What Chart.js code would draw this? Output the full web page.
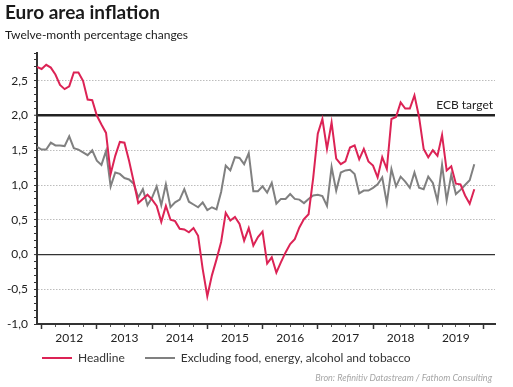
<!DOCTYPE html>
<html>
<head>
<meta charset="utf-8">
<script src="https://cdn.jsdelivr.net/npm/chart.js@4.4.0/dist/chart.umd.min.js"></script>
<style>
  body { margin: 0; background: #fff; font-family: Lato, sans-serif; }
  #wrap { position: relative; width: 513px; height: 387px; overflow: hidden; }
  #chart { position: absolute; left: 0; top: 0; }
  .title { position: absolute; left: 5px; top: 1px; font-size: 19px; line-height: 22px; font-weight: bold; color: #1a1a1a; }
  .subtitle { position: absolute; left: 5px; top: 28px; font-size: 12px; line-height: 14px; color: #1a1a1a; }
  #legend { position: absolute; left: 42px; top: 350px; font-size: 12px; line-height: 16px; color: #333; display: flex; }
  .item { display: flex; align-items: center; margin-right: 20px; }
  .swatch { width: 30px; height: 2px; margin-right: 6px; }
  .source { position: absolute; right: 21px; top: 372px; font-size: 9px; line-height: 12px; font-style: italic; color: #a6a6a6; }
</style>
</head>
<body>
<div id="wrap">
  <canvas id="chart" width="513" height="387"></canvas>
  <div class="title">Euro area inflation</div>
  <div class="subtitle">Twelve-month percentage changes</div>
  <div id="legend"></div>
  <div class="source">Bron: Refinitiv Datastream / Fathom Consulting</div>
</div>
<script>
// monthly observations, first one is Dec 2011, last one Nov 2019
const years = [2012, 2013, 2014, 2015, 2016, 2017, 2018, 2019]

const headline = [
  2.70, 2.67, 2.73, 2.69, 2.59, 2.44, 2.38, 2.42, 2.62, 2.62, 2.50, 2.23,
  2.22, 2.00, 1.87, 1.75, 1.16, 1.42, 1.62, 1.61, 1.35, 1.05, 0.74, 0.80,
  0.86, 0.79, 0.70, 0.47, 0.70, 0.50, 0.48, 0.37, 0.36, 0.32, 0.38, 0.27,
  -0.21, -0.60, -0.30, -0.07, 0.18, 0.60, 0.49, 0.54, 0.44, 0.20, 0.38, 0.13,
  0.25, 0.33, -0.13, -0.04, -0.26, -0.11, 0.03, 0.15, 0.22, 0.39, 0.51, 0.58,
  1.10, 1.74, 1.95, 1.52, 1.90, 1.38, 1.30, 1.34, 1.54, 1.57, 1.37, 1.52,
  1.34, 1.28, 1.11, 1.40, 1.23, 1.95, 1.98, 2.19, 2.10, 2.10, 2.29, 1.98,
  1.52, 1.40, 1.50, 1.42, 1.72, 1.21, 1.27, 1.02, 1.01, 0.85, 0.73, 0.94
]

const core = [
  1.55, 1.51, 1.51, 1.61, 1.57, 1.57, 1.56, 1.70, 1.53, 1.51, 1.47, 1.43,
  1.50, 1.35, 1.29, 1.49, 0.98, 1.18, 1.16, 1.10, 1.08, 1.02, 0.82, 0.94,
  0.71, 0.82, 0.98, 0.71, 1.01, 0.68, 0.75, 0.79, 0.94, 0.76, 0.72, 0.68,
  0.75, 0.64, 0.68, 0.65, 0.90, 1.28, 1.21, 1.40, 1.39, 1.30, 1.46, 0.91,
  0.91, 0.98, 0.89, 1.03, 0.73, 0.80, 0.80, 0.87, 0.80, 0.79, 0.74, 0.80,
  0.85, 0.86, 0.84, 0.70, 1.26, 0.92, 1.18, 1.21, 1.22, 1.16, 0.88, 0.92,
  0.92, 0.96, 1.01, 1.11, 0.74, 1.23, 0.98, 1.12, 1.05, 0.96, 1.18, 0.96,
  0.94, 1.12, 1.03, 0.77, 1.29, 0.78, 1.15, 0.87, 0.93, 1.00, 1.07, 1.30
]

const ecbTarget = 2.0
const yMin = -1.0
const yMax = 2.9

// x is months since Dec 2011; axis runs to mid March 2020
const xMax = 99.5
const monthOf = (year, month) => (year - 2011) * 12 + month - 12

const majorTicks = years.map(y => monthOf(y, 1)).concat([monthOf(2020, 1)])
const midTicks = years.map(y => monthOf(y, 7))
const quarterTicks = []
years.concat([2020]).forEach(y => {
  quarterTicks.push(monthOf(y, 4), monthOf(y, 10))
})
const allTicks = majorTicks.concat(midTicks, quarterTicks).filter(v => v <= xMax).sort((a, b) => a - b)

const RED = '#dc2355'
const GREY = '#808080'

const isHalf = v => Math.abs(v * 2 - Math.round(v * 2)) < 1e-6
const near = (a, b) => Math.abs(a - b) < 1e-6
const fmt = v => {
  const r = Math.round(v * 10) / 10
  return (r === 0 ? 0 : r).toFixed(1).replace('.', ',')
}

const ecbLabel = {
  id: 'ecbLabel',
  afterDraw(chart) {
    const ctx = chart.ctx
    const y = chart.scales.y.getPixelForValue(ecbTarget)
    ctx.save()
    ctx.font = '12px Lato'
    ctx.fillStyle = '#222'
    ctx.textAlign = 'right'
    ctx.textBaseline = 'alphabetic'
    ctx.fillText('ECB target', chart.chartArea.right - 2, y - 7)
    ctx.restore()
  }
}

const chart = new Chart(document.getElementById('chart'), {
  type: 'line',
  data: {
    datasets: [
      {
        label: 'Headline',
        data: headline.map((v, i) => ({ x: i, y: v })),
        borderColor: RED,
        backgroundColor: RED,
        borderWidth: 2,
        pointRadius: 0,
        tension: 0
      },
      {
        label: 'Excluding food, energy, alcohol and tobacco',
        data: core.map((v, i) => ({ x: i, y: v })),
        borderColor: GREY,
        backgroundColor: GREY,
        borderWidth: 2,
        pointRadius: 0,
        tension: 0
      }
    ]
  },
  options: {
    responsive: false,
    animation: false,
    devicePixelRatio: 1,
    layout: { padding: { top: 53, right: 18, left: 0, bottom: 0 } },
    plugins: { legend: { display: false }, tooltip: { enabled: false } },
    scales: {
      x: {
        type: 'linear',
        min: 0,
        max: xMax,
        afterBuildTicks: s => { s.ticks = allTicks.map(v => ({ value: v })) },
        afterFit: s => { s.height = 63 },
        ticks: {
          autoSkip: false,
          maxRotation: 0,
          padding: 2,
          color: '#222',
          font: { family: 'Lato', size: 12 },
          callback: v => {
            const k = midTicks.indexOf(v)
            return k >= 0 ? String(years[k]) : ''
          }
        },
        grid: {
          drawOnChartArea: false,
          tickLength: 5,
          tickColor: c => majorTicks.includes(c.tick.value) ? '#333' : '#555',
          tickWidth: c => majorTicks.includes(c.tick.value) ? 1.5 : 1,
          tickBorderDash: c => majorTicks.includes(c.tick.value) ? [] : [2, 20]
        },
        border: { color: '#333', width: 2 }
      },
      y: {
        min: yMin,
        max: yMax,
        afterFit: s => { s.width = 37 },
        ticks: {
          stepSize: 0.1,
          autoSkip: false,
          padding: 6,
          color: '#222',
          font: { family: 'Lato', size: 12 },
          callback: v => isHalf(v) ? fmt(v) : ''
        },
        grid: {
          tickLength: 3,
          tickColor: '#333',
          tickWidth: 1,
          color: c => {
            const v = c.tick ? c.tick.value : 0
            if (near(v, yMin)) return 'rgba(0,0,0,0)'
            if (near(v, ecbTarget)) return '#222'
            if (near(v, 0)) return '#333'
            if (isHalf(v)) return '#bdbdbd'
            return 'rgba(0,0,0,0)'
          },
          lineWidth: c => {
            const v = c.tick ? c.tick.value : 0
            if (near(v, ecbTarget)) return 2.5
            if (near(v, 0)) return 1.2
            return 1
          }
        },
        border: {
          color: '#333',
          width: 2,
          dash: c => {
            const v = c.tick ? c.tick.value : 0
            if (!c.tick || near(v, ecbTarget) || near(v, 0)) return []
            return [1.5, 1.5]
          }
        }
      }
    }
  },
  plugins: [ecbLabel]
})

// legend built from the chart datasets
const legend = document.getElementById('legend')
chart.data.datasets.forEach(ds => {
  const item = document.createElement('div')
  item.className = 'item'
  item.innerHTML = `<span class="swatch" style="background:${ds.borderColor}"></span><span>${ds.label}</span>`
  legend.appendChild(item)
})
</script>
</body>
</html>
